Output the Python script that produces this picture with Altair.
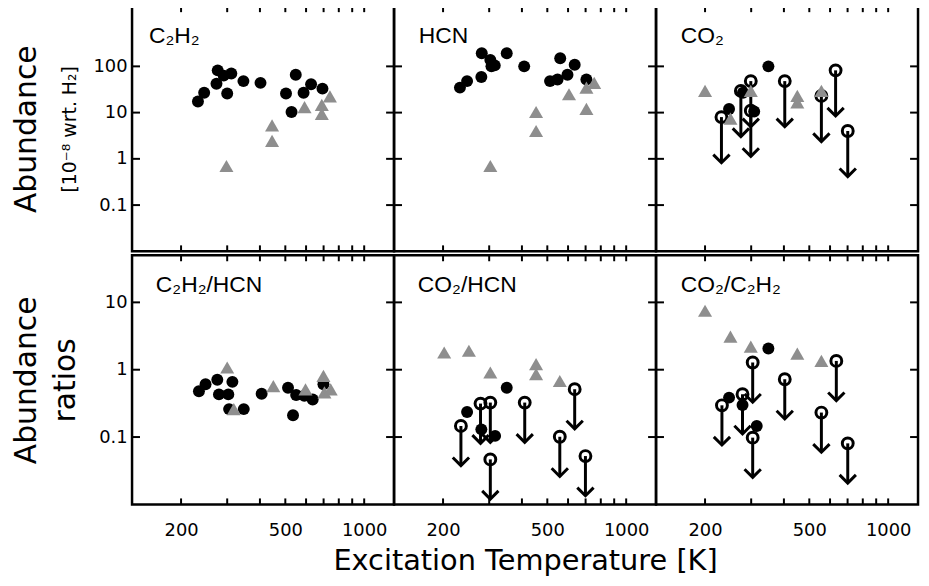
import altair as alt
import pandas as pd

# ---------------- axes / ticks ----------------
X_DOMAIN = [130, 1300]
Y_DOMAIN_TOP = [0.01, 2000]
Y_DOMAIN_BOT = [0.01, 50]
X_TICKS = [200, 300, 400, 500, 600, 700, 800, 900, 1000]
X_LABELS = [200, 500, 1000]
Y_TICKS_TOP = [0.1, 1, 10, 100]
Y_TICKS_BOT = [0.1, 1, 10]

PANEL_NAMES = ["C₂H₂", "HCN", "CO₂", "C₂H₂/HCN", "CO₂/HCN", "CO₂/C₂H₂"]

# ---------------- data ----------------
# C2H2 abundance
c2h2_det_T = [232, 245, 276, 273, 291, 311, 300, 346, 402, 503, 528, 548, 587, 627, 693]
c2h2_det_A = [17.3, 27, 82, 42, 63, 70, 26, 48, 44, 26, 10.3, 66, 27, 41, 33]
c2h2_tri_T = [298, 445, 445, 592, 689, 689, 740]
c2h2_tri_A = [0.70, 5.3, 2.45, 13.1, 14.7, 9.4, 22.4]

# HCN abundance
hcn_det_T = [232, 247, 280, 281, 303, 306, 315, 350, 408, 512, 547, 560, 597, 636, 705]
hcn_det_A = [34.7, 48, 59, 192, 138, 100, 105, 192, 100, 48, 52, 150, 66, 108, 52]
hcn_tri_T = [303, 453, 453, 605, 705, 705, 755]
hcn_tri_A = [0.70, 10.3, 4.0, 25, 34.7, 12, 44]

# CO2 abundance
co2_det_T = [349, 279, 247, 308]
co2_det_A = [100, 27, 12, 10.6]
co2_lim_T = [231, 274, 299, 299, 403, 556, 630, 701]
co2_lim_A = [8.0, 29.5, 48, 11, 48, 23, 82, 4.0]
co2_tri_T = [200, 250, 299, 450, 450, 556]
co2_tri_A = [29.5, 7.4, 29.5, 23, 16.7, 29.5]

# C2H2/HCN ratio
r1_det_T = [234, 248, 275, 279, 303, 314, 305, 347, 406, 512, 550, 591, 636, 535, 699]
r1_det_A = [0.48, 0.61, 0.71, 0.43, 0.43, 0.66, 0.26, 0.26, 0.44, 0.54, 0.42, 0.41, 0.36, 0.21, 0.61]
r1_tri_T = [300, 318, 450, 597, 699, 705, 745]
r1_tri_A = [1.08, 0.26, 0.57, 0.51, 0.81, 0.46, 0.51]

# CO2/HCN ratio
r2_det_T = [350, 247, 280, 316]
r2_det_A = [0.54, 0.236, 0.130, 0.104]
r2_lim_T = [234, 278, 303, 410, 558, 636, 303, 699]
r2_lim_A = [0.146, 0.314, 0.325, 0.325, 0.101, 0.513, 0.0466, 0.0522]
r2_tri_T = [202, 251, 303, 453, 453, 558]
r2_tri_A = [1.80, 1.91, 0.91, 1.21, 0.86, 0.68]

# CO2/C2H2 ratio
r3_det_T = [349, 247, 278, 315]
r3_det_A = [2.07, 0.385, 0.30, 0.146]
r3_lim_T = [304, 232, 278, 403, 556, 634, 304, 701]
r3_lim_A = [1.28, 0.296, 0.432, 0.722, 0.231, 1.35, 0.098, 0.0806]
r3_tri_T = [200, 250, 299, 450, 556]
r3_tri_A = [7.5, 3.1, 2.2, 1.73, 1.35]

FONT = "DejaVu Sans"
GRAY = "#8e8e8e"
PANEL_W = 264
X_TICK_LEN = 6
Y_TICK_LEN = 8


def build_df(det_T, det_A, tri_T, tri_A, lim_T, lim_A):
    rows = []
    for t, a in zip(det_T, det_A):
        rows.append({"T": t, "A": a, "kind": "det"})
    for t, a in zip(tri_T, tri_A):
        rows.append({"T": t, "A": a, "kind": "tri"})
    for t, a in zip(lim_T, lim_A):
        rows.append({"T": t, "A": a, "kind": "lim"})
    return pd.DataFrame(rows)


def make_panel(name, df, row, col, label_dx):
    ydom = Y_DOMAIN_TOP if row == 0 else Y_DOMAIN_BOT
    yt = Y_TICKS_TOP if row == 0 else Y_TICKS_BOT
    H = 247 if row == 0 else 251
    arrow_len = 46 if row == 0 else 40
    xs = alt.Scale(type="log", domain=X_DOMAIN, nice=False)
    ys = alt.Scale(type="log", domain=ydom, nice=False)

    X = lambda **kw: alt.X("T:Q", scale=xs, **kw)
    Y = lambda **kw: alt.Y("A:Q", scale=ys, **kw)

    # inward ticks on all four sides, placed through the scales
    xt_df = pd.DataFrame({"T": X_TICKS})
    yt_df = pd.DataFrame({"A": yt})
    tick_style = dict(color="black", strokeWidth=2)
    tick_b = alt.Chart(xt_df).mark_rule(**tick_style).encode(
        x=X(axis=None), y=alt.value(H), y2=alt.value(H - X_TICK_LEN))
    tick_t = alt.Chart(xt_df).mark_rule(**tick_style).encode(
        x=X(axis=None), y=alt.value(0), y2=alt.value(X_TICK_LEN))
    tick_l = alt.Chart(yt_df).mark_rule(**tick_style).encode(
        y=Y(axis=None), x=alt.value(0), x2=alt.value(Y_TICK_LEN))
    tick_r = alt.Chart(yt_df).mark_rule(**tick_style).encode(
        y=Y(axis=None), x=alt.value(PANEL_W), x2=alt.value(PANEL_W - Y_TICK_LEN))

    base = alt.Chart(df)

    det = base.transform_filter(alt.datum.kind == "det").mark_circle(
        size=145, color="black", opacity=1
    ).encode(x=X(axis=None), y=Y(axis=None))
    tri = base.transform_filter(alt.datum.kind == "tri").mark_point(
        shape="triangle-up", filled=True, size=200, color=GRAY, opacity=1
    ).encode(x=X(axis=None), y=Y(axis=None))
    lim = base.transform_filter(alt.datum.kind == "lim")
    stem = lim.mark_rule(color="black", strokeWidth=3, y2Offset=arrow_len).encode(
        x=X(axis=None), y=Y(axis=None), y2="A:Q")
    head = lim.mark_point(
        shape="M-1,-1L0,0L1,-1", filled=False, size=270, strokeWidth=3,
        color="black", opacity=1, yOffset=arrow_len,
    ).encode(x=X(axis=None), y=Y(axis=None))
    ring = lim.mark_point(
        shape="circle", filled=False, size=120, strokeWidth=3, color="black", opacity=1
    ).encode(x=X(axis=None), y=Y(axis=None))

    label = alt.Chart(pd.DataFrame({"label": [name]})).mark_text(
        align="left", baseline="alphabetic", fontSize=23, font="Liberation Sans", color="black"
    ).encode(x=alt.value(label_dx), y=alt.value(37), text="label:N")

    layers = [tick_b, tick_t, tick_l, tick_r, stem, ring, head, det, tri, label]

    if row == 1:
        xlab = alt.Axis(
            orient="bottom", values=X_LABELS, ticks=False, domain=False, grid=False,
            minExtent=0,
            labelExpr="datum.value + ''", labelFont=FONT, labelFontSize=18,
            labelColor="black", labelPadding=17, labelFlush=False, labelOverlap=False,
            title="Excitation Temperature [K]" if col == 1 else None,
            titleFont=FONT, titleFontSize=29, titleFontWeight="normal",
            titleColor="black", titlePadding=8,
        )
    else:
        xlab = None
    if col == 0:
        if row == 0:
            ytitle = "Abundance"
            tpad = 52
        else:
            ytitle = ["Abundance", "ratios"]
            tpad = 18
        ylab = alt.Axis(
            orient="left", values=yt, ticks=False, domain=False, grid=False,
            minExtent=0,
            labelExpr="datum.value + ''", labelFont=FONT, labelFontSize=18,
            labelColor="black", labelPadding=5, labelFlush=False, labelOverlap=False,
            title=ytitle, titleFont=FONT, titleFontSize=30, titleFontWeight="normal",
            titleColor="black", titlePadding=tpad, titleLineHeight=40,
        )
    else:
        ylab = None
    if xlab is not None or ylab is not None:
        lab_layer = base.transform_filter(alt.datum.kind == "det").mark_point(opacity=0).encode(
            x=X(axis=xlab), y=Y(axis=ylab))
        layers.append(lab_layer)
    if row == 0 and col == 0:
        sub_axis = alt.Axis(
            orient="left", ticks=False, labels=False, domain=False, grid=False,
            minExtent=0,
            title="[10⁻⁸ wrt. H₂]", titleFont=FONT, titleFontSize=19,
            titleFontWeight="normal", titleColor="black", titlePadding=53,
        )
        sub_layer = base.transform_filter(alt.datum.kind == "det").mark_point(opacity=0).encode(
            x=X(axis=None), y=Y(axis=sub_axis))
        layers.append(sub_layer)

    return alt.layer(*layers).resolve_axis(x="independent", y="independent").properties(
        width=PANEL_W, height=H
    )


dfs = [
    build_df(c2h2_det_T, c2h2_det_A, c2h2_tri_T, c2h2_tri_A, [], []),
    build_df(hcn_det_T, hcn_det_A, hcn_tri_T, hcn_tri_A, [], []),
    build_df(co2_det_T, co2_det_A, co2_tri_T, co2_tri_A, co2_lim_T, co2_lim_A),
    build_df(r1_det_T, r1_det_A, r1_tri_T, r1_tri_A, [], []),
    build_df(r2_det_T, r2_det_A, r2_tri_T, r2_tri_A, r2_lim_T, r2_lim_A),
    build_df(r3_det_T, r3_det_A, r3_tri_T, r3_tri_A, r3_lim_T, r3_lim_A),
]
label_dx = [17, 25, 25, 24, 24, 25]

panels = []
for i, (name, df) in enumerate(zip(PANEL_NAMES, dfs)):
    panels.append(make_panel(name, df, i // 3, i % 3, label_dx[i]))

chart = alt.concat(*panels, columns=3, spacing=0, bounds="flush", align="all").properties(
    padding={"left": 2, "top": -7, "right": 0, "bottom": 0}
).configure_view(stroke="black", strokeWidth=2.5).configure_axis(minExtent=0)

chart.save("out.html", embed_options={"renderer": "svg", "actions": False})
